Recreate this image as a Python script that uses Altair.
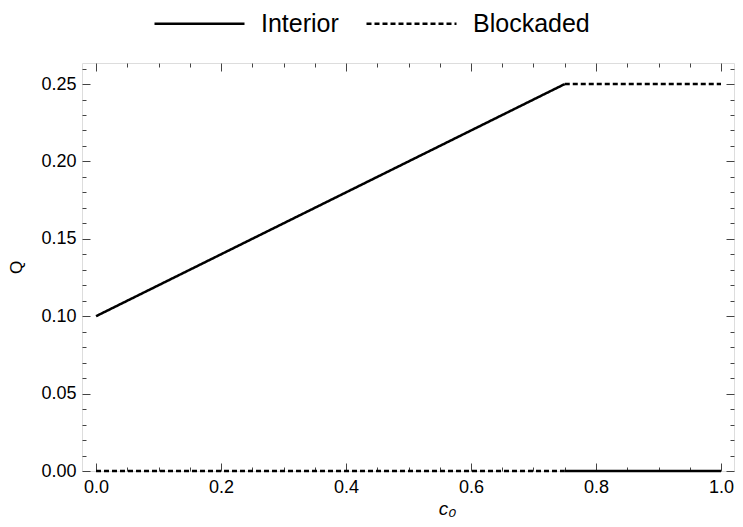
import altair as alt
import pandas as pd

# data
series = ["Interior", "Interior", "Interior", "Interior",
          "Blockaded", "Blockaded", "Blockaded", "Blockaded"]
segment = ["i1", "i1", "i2", "i2", "b1", "b1", "b2", "b2"]
c0 = [0.0, 0.75, 0.75, 1.0, 0.0, 0.75, 0.75, 1.0]
Q = [0.10, 0.25, 0.0, 0.0, 0.0, 0.0, 0.25, 0.25]

x_major = [0.0, 0.2, 0.4, 0.6, 0.8, 1.0]
x_minor = [0.05, 0.1, 0.15, 0.25, 0.3, 0.35, 0.45, 0.5, 0.55, 0.65, 0.7, 0.75, 0.85, 0.9, 0.95]
y_major = [0.0, 0.05, 0.10, 0.15, 0.20, 0.25]
y_minor = [0.01, 0.02, 0.03, 0.04, 0.06, 0.07, 0.08, 0.09, 0.11, 0.12, 0.13, 0.14,
           0.16, 0.17, 0.18, 0.19, 0.21, 0.22, 0.23, 0.24, 0.26]

df = pd.DataFrame({"c0": c0, "Q": Q, "series": series, "seg": segment})

xscale = alt.Scale(domain=[-0.0224, 1.0208], nice=False, zero=False)
yscale = alt.Scale(domain=[0, 0.2636], nice=False, zero=False)

TICK = "#444444"
FONT = "Liberation Sans"

base = alt.Chart(df)

lines = base.mark_line(color="black", strokeWidth=2.5).encode(
    x=alt.X("c0:Q", scale=xscale,
            axis=alt.Axis(orient="bottom", values=x_major, format=".1f", ticks=False, tickSize=0,
                          domain=False, grid=False, labelFontSize=18, labelPadding=7,
                          labelColor="black", labelFont=FONT,
                          title="c₀", titleFontSize=19, titleFontStyle="italic",
                          titleFontWeight="normal", titleFont=FONT, titleColor="black",
                          titleX=365, titlePadding=3)),
    y=alt.Y("Q:Q", scale=yscale,
            axis=alt.Axis(orient="left", values=y_major, format=".2f", ticks=False, tickSize=0,
                          domain=False, grid=False, labelFontSize=18, labelPadding=6,
                          labelColor="black", labelFont=FONT,
                          title="Q", titleFontSize=17, titleFontWeight="normal",
                          titleFont=FONT, titleColor="black", titlePadding=15)),
    strokeDash=alt.StrokeDash("series:N",
                              scale=alt.Scale(domain=["Interior", "Blockaded"],
                                              range=[[1, 0], [5, 3]]),
                              legend=alt.Legend(orient="none", direction="horizontal",
                                                legendX=71, legendY=-86, title=None,
                                                labelFontSize=25, labelFont=FONT,
                                                labelColor="black",
                                                symbolType="stroke", symbolSize=8100,
                                                symbolStrokeWidth=2.6,
                                                symbolStrokeColor="black",
                                                labelOffset=15, columnPadding=22)),
    detail="seg:N",
)


def tick_layer(xvals, yvals, size, xorient, yorient):
    return base.mark_point(opacity=0).encode(
        x=alt.X("c0:Q", scale=xscale,
                axis=alt.Axis(orient=xorient, values=xvals, labels=False, domain=False,
                              grid=False, ticks=True, tickSize=size, offset=-size,
                              tickColor=TICK, tickWidth=1, title=None)),
        y=alt.Y("Q:Q", scale=yscale,
                axis=alt.Axis(orient=yorient, values=yvals, labels=False, domain=False,
                              grid=False, ticks=True, tickSize=size, offset=-size,
                              tickColor=TICK, tickWidth=1, title=None)),
    )


t1 = tick_layer(x_major, y_major, 8, "bottom", "left")
t2 = tick_layer(x_minor, y_minor, 4, "bottom", "left")
t3 = tick_layer(x_major, y_major, 8, "top", "right")
t4 = tick_layer(x_minor, y_minor, 4, "top", "right")

chart = alt.layer(t1, t2, t3, t4, lines).resolve_axis(
    x="independent", y="independent"
).properties(
    width=652, height=408,
    autosize=alt.AutoSizeParams(type="none"),
    padding={"left": 74, "top": 55, "right": 1, "bottom": 48},
).configure_view(
    stroke=TICK, strokeWidth=1
).configure(font=FONT)

chart.save("out.html", embed_options={"renderer": "svg", "actions": False})
